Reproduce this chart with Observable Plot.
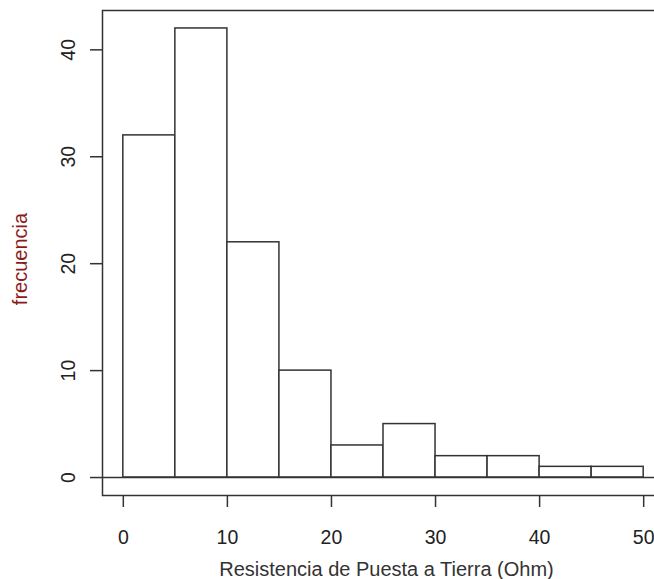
<!DOCTYPE html>
<html>
<head>
<meta charset="utf-8">
<script src="https://cdn.jsdelivr.net/npm/d3@7"></script>
<script src="https://cdn.jsdelivr.net/npm/@observablehq/plot@0.6"></script>
<style>
  html, body { margin: 0; padding: 0; background: #fff; }
  #chart svg { display: block; }
</style>
</head>
<body>
<div id="chart"></div>
<script>
// Histogram bins (Ohm) and frequencies
const binStarts = [0, 5, 10, 15, 20, 25, 30, 35, 40, 45];
const binEnds   = [5, 10, 15, 20, 25, 30, 35, 40, 45, 50];
const counts    = [32, 42, 22, 10, 3, 5, 2, 2, 1, 1];
const xTicks = [0, 10, 20, 30, 40, 50];
const yTicks = [0, 10, 20, 30, 40];
const xTitle = "Resistencia de Puesta a Tierra (Ohm)";
const yTitle = "frecuencia";

const bins = binStarts.map((s, i) => ({x1: s, x2: binEnds[i], n: counts[i]}));

const font = "Liberation Sans, Arial, sans-serif";
const ink = "#333";

const chart = Plot.plot({
  width: 654,
  height: 579,
  marginLeft: 102,
  marginRight: -10,
  marginTop: 10,
  marginBottom: 84,
  style: {fontFamily: font, fontSize: "20px", background: "#fff", color: "#222"},
  x: {domain: [-2, 52], axis: null, label: null},
  y: {domain: [-1.68, 43.68], axis: null, label: null},
  marks: [
    Plot.rectY(bins, {x1: "x1", x2: "x2", y1: 0, y2: "n", fill: "#fff", stroke: ink, strokeWidth: 1.5}),
    Plot.ruleY([0], {stroke: ink, strokeWidth: 1.5}),
    Plot.frame({stroke: ink, strokeWidth: 1.5}),
    Plot.axisX({ticks: xTicks, tickSize: 12, tickFormat: () => "", label: null, stroke: ink, strokeWidth: 1.5}),
    Plot.axisY({ticks: yTicks, tickSize: 12, tickFormat: () => "", label: null, stroke: ink, strokeWidth: 1.5}),
    Plot.text(xTicks, {x: d => d, text: d => String(d), frameAnchor: "bottom", dy: 42, lineAnchor: "middle", fill: "#222", fontSize: 19.5}),
    Plot.text(yTicks, {y: d => d, text: d => String(d), frameAnchor: "left", dx: -34, rotate: -90, textAnchor: "middle", lineAnchor: "middle", fill: "#222", fontSize: 19.5}),
    Plot.text([xTitle], {text: d => d, frameAnchor: "bottom", dx: 3, dy: 74, lineAnchor: "middle", fill: "#333", fontSize: 20}),
    Plot.text([yTitle], {text: d => d, frameAnchor: "left", dx: -82, dy: 6, rotate: -90, textAnchor: "middle", lineAnchor: "middle", fill: "#8b1a1a", fontSize: 20})
  ]
});
document.getElementById("chart").appendChild(chart);
</script>
</body>
</html>
